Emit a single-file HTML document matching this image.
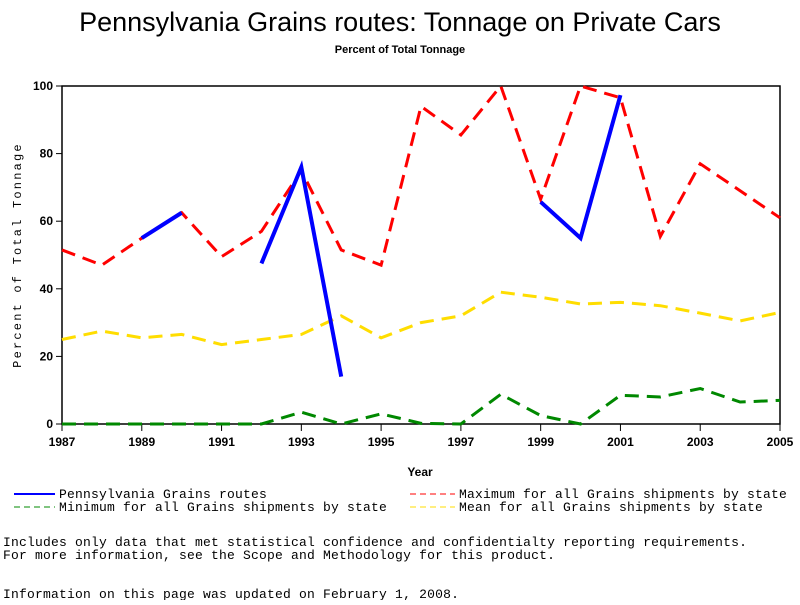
<!DOCTYPE html>
<html><head><meta charset="utf-8"><style>
body{margin:0;background:#fff;width:800px;height:600px;overflow:hidden}
svg text{font-family:"Liberation Sans",sans-serif}
.mono{font-family:"Liberation Mono",monospace;font-size:13px;letter-spacing:0.2px}
</style></head><body>
<svg id="c" width="800" height="600">
<text x="400" y="31" font-size="27" text-anchor="middle">Pennsylvania Grains routes: Tonnage on Private Cars</text>
<text x="400" y="53" font-size="11" font-weight="bold" text-anchor="middle">Percent of Total Tonnage</text>
<g id="axes"></g><g id="series"></g>
<text x="420" y="476" font-size="12" font-weight="bold" text-anchor="middle">Year</text>
<text transform="translate(21,255) rotate(-90)" class="mono" style="font-size:12px;letter-spacing:2.2px" text-anchor="middle">Percent of Total Tonnage</text>
<g>
<line x1="14" y1="494" x2="55" y2="494" stroke="#00f" stroke-width="2"/><text x="59" y="498" class="mono">Pennsylvania Grains routes</text>
<line x1="410" y1="494" x2="455" y2="494" stroke="#f00" stroke-width="1" stroke-dasharray="6,4"/><text x="459" y="498" class="mono">Maximum for all Grains shipments by state</text>
<line x1="14" y1="507" x2="55" y2="507" stroke="#080" stroke-width="1" stroke-dasharray="6,4"/><text x="59" y="511" class="mono">Minimum for all Grains shipments by state</text>
<line x1="410" y1="507" x2="455" y2="507" stroke="#fd0" stroke-width="1" stroke-dasharray="6,4"/><text x="459" y="511" class="mono">Mean for all Grains shipments by state</text>
</g>
<text x="3" y="546" class="mono">Includes only data that met statistical confidence and confidentialty reporting requirements.</text>
<text x="3" y="559" class="mono">For more information, see the Scope and Methodology for this product.</text>
<text x="3" y="598" class="mono">Information on this page was updated on February 1, 2008.</text>
</svg>
<script>
const years=[1987,1988,1989,1990,1991,1992,1993,1994,1995,1996,1997,1998,1999,2000,2001,2002,2003,2004,2005];
const maxVals=[51.5,47,55,62.5,49.5,57,75,51.5,47,94,85.5,100,66.5,100,96.5,55.5,77,69,61];
const meanVals=[25,27.5,25.5,26.5,23.5,25,26.5,32,25.5,30,32,39,37.5,35.5,36,35,32.8,30.5,33];
const minVals=[0,0,0,0,0,0,3.5,0,3,0.2,0,8.8,2.5,0,8.5,8,10.5,6.5,7];
const paVals=[null,null,55,62.5,null,47.5,76,14,null,null,null,null,65.7,55,97.3,null,null,null,null];
const yTicks=[0,20,40,60,80,100];
const xTicks=[1987,1989,1991,1993,1995,1997,1999,2001,2003,2005];
const X0=62,X1=780,Y0=424,Y1=86;
const xs=y=>X0+(y-1987)/(2005-1987)*(X1-X0);
const ys=v=>Y0-v/100*(Y0-Y1);
const NS="http://www.w3.org/2000/svg";
const ax=document.getElementById('axes'),se=document.getElementById('series');
function mk(p,t,a){const e=document.createElementNS(NS,t);for(const k in a)e.setAttribute(k,a[k]);p.appendChild(e);return e;}
const fr=mk(ax,'rect',{x:X0,y:Y1,width:X1-X0,height:Y0-Y1,fill:'none',stroke:'#000','stroke-width':1.5});


yTicks.forEach(v=>{
 mk(ax,'line',{x1:X0-6,x2:X0,y1:ys(v),y2:ys(v),stroke:'#000'});
 const t=mk(ax,'text',{x:X0-9,y:ys(v)+4,'text-anchor':'end','font-size':12,'font-weight':'bold'});t.textContent=v;
 
 
});
xTicks.forEach(v=>{
 mk(ax,'line',{x1:xs(v),x2:xs(v),y1:Y0,y2:Y0+7,stroke:'#000'});
 const t=mk(ax,'text',{x:xs(v),y:Y0+22,'text-anchor':'middle','font-size':12,'font-weight':'bold'});t.textContent=v;
 
 
});
function line(vals,color,w,dash,name){
 let segs=[],cur=[];
 vals.forEach((v,i)=>{if(v==null){if(cur.length)segs.push(cur);cur=[];}else cur.push(xs(years[i])+','+ys(v));});
 if(cur.length)segs.push(cur);
 segs.forEach(s=>{const p=mk(se,'polyline',{points:s.join(' '),fill:'none',stroke:color,'stroke-width':w});
  if(dash)p.setAttribute('stroke-dasharray',dash);
  
  });
}
line(minVals,'#080',3,'14,8','min-series-line');
line(meanVals,'#fd0',3,'14,8','mean-series-line');
line(maxVals,'#f00',3,'14,8','max-series-line');
line(paVals,'#00f',4,null,'pa-series-line');
</script>
</body></html>
